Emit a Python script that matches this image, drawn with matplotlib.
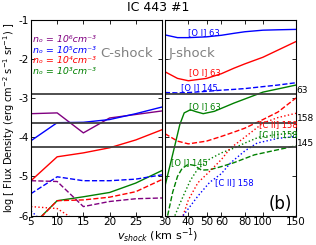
import numpy as np
import matplotlib
matplotlib.use('Agg')
import matplotlib.pyplot as plt
from matplotlib.ticker import NullFormatter, NullLocator

# C-shock (left panel)
v_c = [5, 10, 15, 20, 25, 30]
c_n6_oi63 = [-3.40, -3.38, -3.89, -3.51, -3.42, -3.33]
c_n5_oi63 = [-4.09, -3.63, -3.62, -3.55, -3.40, -3.23]
c_n4_oi63 = [-5.11, -4.50, -4.40, -4.27, -4.07, -3.81]
c_n3_oi63 = [-6.28, -5.62, -5.52, -5.41, -5.17, -4.85]
c_n5_oi145 = [-5.44, -5.01, -5.11, -5.11, -5.07, -4.96]
c_n6_oi145 = [-5.11, -5.13, -5.77, -5.64, -5.57, -5.55]
c_n4_oi145 = [-6.30, -5.62, -5.60, -5.53, -5.39, -5.08]
c_n4_cii = [-5.77, -5.82, -6.25, -6.6, -6.8, -7.0]
c_n5_cii = [-5.88, -6.5, -6.8, -7.0, -7.2, -7.4]

# J-shock (right panel)
v_j = [30, 35, 40, 50, 60, 70, 80, 100, 120, 150]
j_n5_oi63 = [-1.39, -1.46, -1.46, -1.44, -1.40, -1.35, -1.31, -1.27, -1.26, -1.25]
j_n4_oi63 = [-2.33, -2.50, -2.56, -2.50, -2.38, -2.24, -2.13, -1.96, -1.78, -1.56]
j_n5_oi145 = [-2.86, -2.87, -2.86, -2.83, -2.80, -2.78, -2.76, -2.71, -2.67, -2.61]
j_n4_oi145 = [-3.91, -4.10, -4.17, -4.10, -3.98, -3.87, -3.77, -3.55, -3.36, -3.00]

v_g63 = [30, 32, 34, 36, 38, 41, 44, 48, 55, 70, 100, 150]
j_n3_oi63 = [-5.25, -4.70, -4.18, -3.68, -3.38, -3.30, -3.35, -3.40, -3.34, -3.13, -2.85, -2.67]
v_g145 = [31, 33, 35, 37, 40, 43, 47, 52, 60, 70, 90, 120, 150]
j_n3_oi145 = [-6.0, -5.4, -5.0, -4.8, -4.69, -4.72, -4.84, -4.83, -4.75, -4.65, -4.45, -4.32, -4.22]
v_g158 = [33.9, 36, 38.3, 41, 44.6, 51.5, 60, 70.8, 80, 95, 120, 150]
j_n3_cii = [-6.0, -5.7, -5.41, -5.1, -4.83, -4.57, -4.40, -4.27, -4.15, -4.0, -3.93, -3.89]
v_r158 = [37.5, 40, 45, 51, 60, 67, 80, 100, 120, 150]
j_n4_cii = [-6.0, -5.6, -5.16, -4.91, -4.57, -4.28, -4.0, -3.64, -3.50, -3.39]
v_b158 = [37.5, 45, 52, 60, 67, 80, 93, 120, 150]
j_n5_cii = [-6.0, -5.5, -5.15, -4.93, -4.66, -4.35, -4.15, -4.03, -3.98]

# observed values
obs_vals = [-2.90, -3.63, -4.26]
obs_labels = ['63', '158', '145']

dens_labels = ['n\u2092 = 10\u2076cm\u207b\u00b3', 'n\u2092 = 10\u2075cm\u207b\u00b3',
               'n\u2092 = 10\u2074cm\u207b\u00b3', 'n\u2092 = 10\u00b3cm\u207b\u00b3']
dens_colors = ['purple', 'blue', 'red', 'green']

fig = plt.figure(figsize=(3.16, 2.45), dpi=100)
ax1 = fig.add_axes([0.098, 0.12, 0.4146, 0.80])
ax2 = fig.add_axes([0.522, 0.12, 0.4146, 0.80])
lw = 1.0

# left panel
ax1.plot(v_c, c_n6_oi63, color='purple', lw=lw)
ax1.plot(v_c, c_n5_oi63, color='blue', lw=lw)
ax1.plot(v_c, c_n4_oi63, color='red', lw=lw)
ax1.plot(v_c, c_n3_oi63, color='green', lw=lw)
ax1.plot(v_c, c_n5_oi145, color='blue', lw=lw, ls='--')
ax1.plot(v_c, c_n6_oi145, color='purple', lw=lw, ls='--')
ax1.plot(v_c, c_n4_oi145, color='red', lw=lw, ls='--')
ax1.plot(v_c, c_n4_cii, color='red', lw=lw, ls=':')
ax1.plot(v_c, c_n5_cii, color='blue', lw=lw, ls=':')

# right panel
ax2.plot(v_j, j_n5_oi63, color='blue', lw=lw)
ax2.plot(v_j, j_n4_oi63, color='red', lw=lw)
ax2.plot(v_j, j_n5_oi145, color='blue', lw=lw, ls='--')
ax2.plot(v_j, j_n4_oi145, color='red', lw=lw, ls='--')
ax2.plot(v_g63, j_n3_oi63, color='green', lw=lw)
ax2.plot(v_g145, j_n3_oi145, color='green', lw=lw, ls='--')
ax2.plot(v_g158, j_n3_cii, color='green', lw=lw, ls=':')
ax2.plot(v_r158, j_n4_cii, color='red', lw=lw, ls=':')
ax2.plot(v_b158, j_n5_cii, color='blue', lw=lw, ls=':')

for ax in (ax1, ax2):
    for val in obs_vals:
        ax.axhline(val, color='#404040', lw=1.3)
    ax.set_ylim(-6, -1)
    ax.tick_params(direction='in', top=True, right=True, labelsize=7.5,
                   length=3, width=0.6, pad=1.5)
    ax.tick_params(axis='x', pad=1)

ax1.set_xlim(5, 30)
ax1.set_xticks([5, 10, 15, 20, 25, 30])
ax1.set_xticklabels(['5', '10', '15', '20', '25', ''])
ax1.set_yticks([-1, -2, -3, -4, -5, -6])
ax1.set_yticklabels(['-1', '-2', '-3', '-4', '-5', '-6'])
ax1.set_ylabel(r'log [ Flux Density (erg cm$^{-2}$ s$^{-1}$ sr$^{-1}$) ]',
               fontsize=7, labelpad=1)

ax2.set_xscale('log')
ax2.set_xlim(30, 150)
ax2.set_xticks([30, 40, 50, 60, 80, 100, 150])
ax2.set_xticklabels(['30', '40', '50', '60', '80', '100', '150'])
ax2.xaxis.set_minor_locator(NullLocator())
ax2.xaxis.set_minor_formatter(NullFormatter())
ax2.set_yticks([-1, -2, -3, -4, -5, -6])
ax2.set_yticklabels([])

for i, (lab, col) in enumerate(zip(dens_labels, dens_colors)):
    ax1.text(5.3, -1.52 - i * 0.265, lab, color=col, fontsize=6.8,
             style='italic', va='center')
ax1.text(18.3, -1.86, 'C-shock', color='gray', fontsize=9.5, va='center')
ax2.text(31.5, -1.86, 'J-shock', color='gray', fontsize=9.5, va='center')
ax2.text(107, -5.7, '(b)', color='black', fontsize=12, va='center')

fs = 6
ax2.text(39.8, -1.32, '[O I] 63', color='blue', fontsize=fs, va='center')
ax2.text(40.4, -2.34, '[O I] 63', color='red', fontsize=fs, va='center')
ax2.text(36.5, -2.74, '[O I] 145', color='blue', fontsize=fs, va='center')
ax2.text(40.4, -3.23, '[O I] 63', color='green', fontsize=fs, va='center')
ax2.text(95, -3.68, '[C II] 158', color='red', fontsize=fs, va='center')
ax2.text(95, -3.94, '[C II] 158', color='green', fontsize=fs, va='center')
ax2.text(32.3, -4.65, '[O I] 145', color='green', fontsize=fs, va='center')
ax2.text(55.5, -5.16, '[C II] 158', color='blue', fontsize=fs, va='center')

for val, lab in zip(obs_vals, obs_labels):
    ax2.text(151, val + 0.1, lab, fontsize=6.5, va='center', ha='left')

fig.suptitle('IC 443 #1', fontsize=9, y=0.995)
fig.text(0.5, 0.0, r'$v_{shock}$ (km s$^{-1}$)', fontsize=8, ha='center', va='bottom')

fig.savefig('out.png', dpi=100)
